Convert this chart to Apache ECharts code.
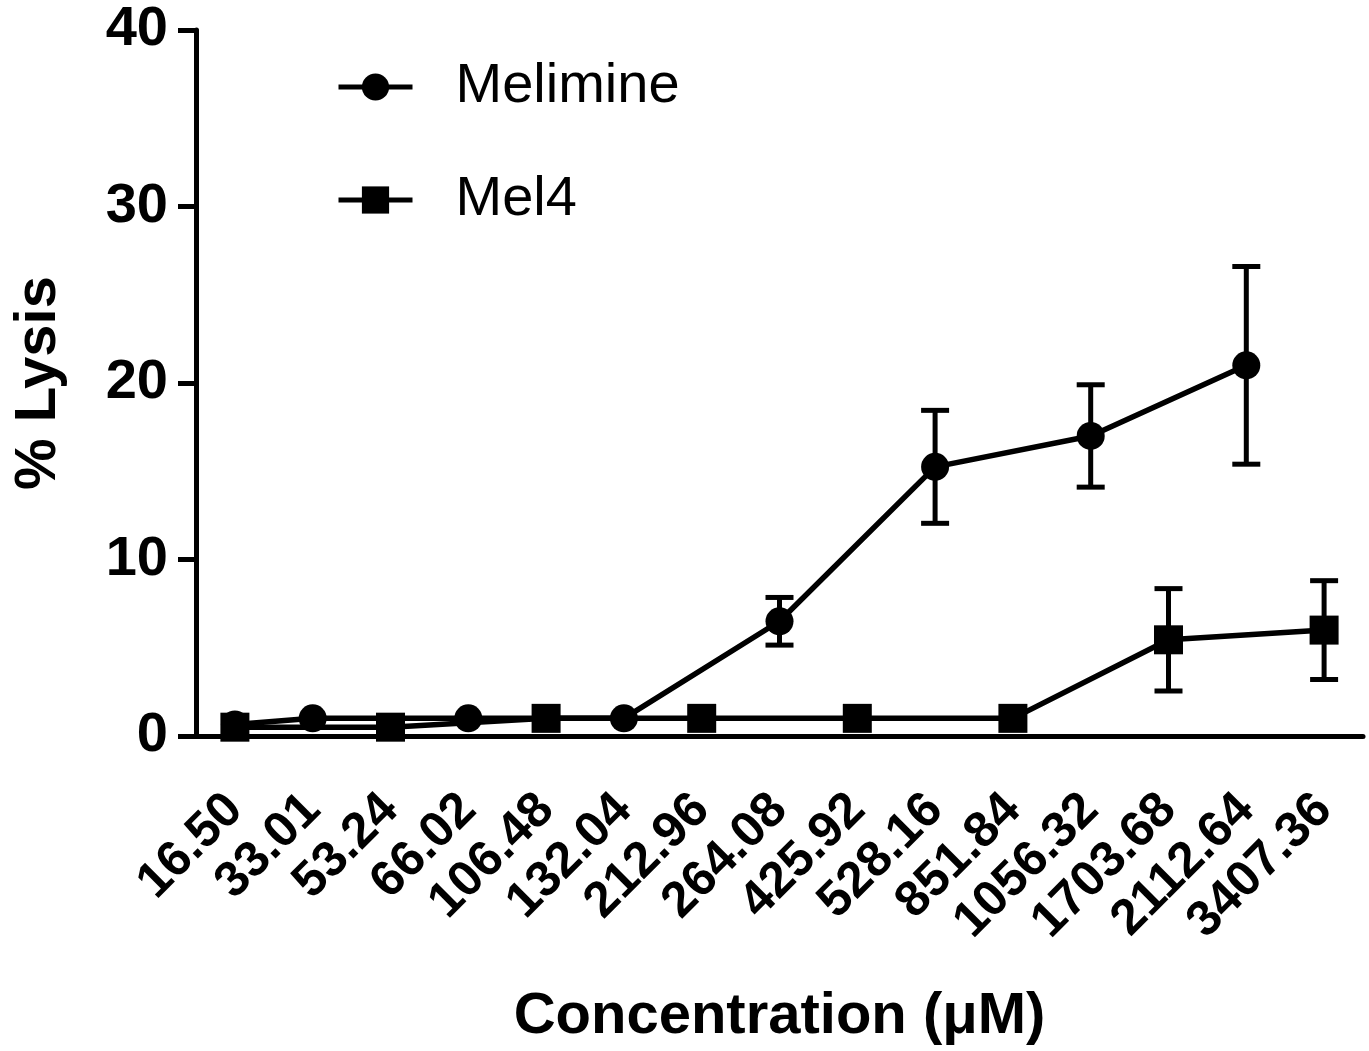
<!DOCTYPE html>
<html><head><meta charset="utf-8">
<script src="https://cdn.jsdelivr.net/npm/echarts@6/dist/echarts.min.js"></script>
<style>html,body{margin:0;padding:0;background:#fff}#main{width:1369px;height:1051px}</style>
</head><body><div id="main"></div>
<script>
const categories = ['16.50','33.01','53.24','66.02','106.48','132.04','212.96','264.08','425.92','528.16','851.84','1056.32','1703.68','2112.64','3407.36'];
const melimineMean = [0.65, 1.0, null, 1.0, null, 1.0, null, 6.5, null, 15.25, null, 17.0, null, 21.0, null];
const melimineErr  = [0, 0, null, 0, null, 0, null, 1.35, null, 3.2, null, 2.9, null, 5.6, null];
const mel4Mean = [0.5, null, 0.5, null, 1.0, null, 1.0, null, 1.0, null, 1.0, null, 5.45, null, 6.0];
const mel4Err  = [0, null, 0, null, 0, null, 0, null, 0, null, 0, null, 2.9, null, 2.8];
const yTicks = [0, 10, 20, 30, 40];

const FONT = "'Liberation Sans', Arial, sans-serif";

function errData(mean, err) {
  const out = [];
  mean.forEach((m, i) => { if (m != null && err[i] > 0) out.push([i, m, err[i]]); });
  return out;
}
function errRender(params, api) {
  const x = api.value(0), y = api.value(1), e = api.value(2);
  const top = api.coord([x, y + e]);
  const bot = api.coord([x, y - e]);
  const hw = 14;
  const style = { stroke: '#000', lineWidth: 5, fill: null };
  return { type: 'group', children: [
    { type: 'line', shape: { x1: top[0], y1: top[1], x2: bot[0], y2: bot[1] }, style: style },
    { type: 'line', shape: { x1: top[0] - hw, y1: top[1], x2: top[0] + hw, y2: top[1] }, style: style },
    { type: 'line', shape: { x1: bot[0] - hw, y1: bot[1], x2: bot[0] + hw, y2: bot[1] }, style: style }
  ]};
}

const chart = echarts.init(document.getElementById('main'));
chart.setOption({
  animation: false,
  backgroundColor: '#fff',
  textStyle: { fontFamily: FONT },
  grid: { left: 196, top: 30, right: 6, bottom: 313, containLabel: false },
  legend: {
    data: ['Melimine', 'Mel4'],
    orient: 'vertical',
    left: 336, top: 59, padding: 0,
    itemWidth: 74, itemHeight: 34, itemGap: 57,
    lineStyle: { width: 5, color: '#000' },
    textStyle: { fontFamily: FONT, fontSize: 56, color: '#000', padding: [0, 0, 0, 38], lineHeight: 56 }
  },
  xAxis: {
    type: 'category',
    data: categories,
    boundaryGap: true,
    name: 'Concentration (\u03bcM)',
    nameLocation: 'middle',
    nameGap: 252,
    nameTextStyle: { fontFamily: FONT, fontSize: 58, fontWeight: 'bold', color: '#000' },
    axisLine: { lineStyle: { color: '#000', width: 5 } },
    axisTick: { alignWithLabel: true, length: 18, lineStyle: { color: '#000', width: 4 } },
    axisLabel: { rotate: 45, interval: 0, margin: 66, fontFamily: FONT, fontSize: 50, fontWeight: 'bold', color: '#000' },
    splitLine: { show: false }
  },
  yAxis: {
    type: 'value',
    min: 0, max: 40, interval: 10,
    name: '% Lysis',
    nameLocation: 'middle',
    nameGap: 128,
    nameTextStyle: { fontFamily: FONT, fontSize: 58, fontWeight: 'bold', color: '#000' },
    axisLine: { show: true, lineStyle: { color: '#000', width: 5 } },
    axisTick: { show: true, length: 18, lineStyle: { color: '#000', width: 5 } },
    axisLabel: { margin: 28, fontFamily: FONT, fontSize: 56, fontWeight: 'bold', color: '#000',
      formatter: v => yTicks.indexOf(v) >= 0 ? String(v) : '' },
    splitLine: { show: false }
  },
  series: [
    { name: 'Melimine', type: 'line', data: melimineMean, connectNulls: true,
      symbol: 'circle', symbolSize: 28, z: 3,
      lineStyle: { color: '#000', width: 5.5 }, itemStyle: { color: '#000' } },
    { name: 'Mel4', type: 'line', data: mel4Mean, connectNulls: true,
      symbol: 'rect', symbolSize: 29, z: 4,
      lineStyle: { color: '#000', width: 5.5 }, itemStyle: { color: '#000' } },
    { name: 'MelimineErr', type: 'custom', data: errData(melimineMean, melimineErr), renderItem: errRender, z: 3 },
    { name: 'Mel4Err', type: 'custom', data: errData(mel4Mean, mel4Err), renderItem: errRender, z: 3 }
  ]
});
</script></body></html>
